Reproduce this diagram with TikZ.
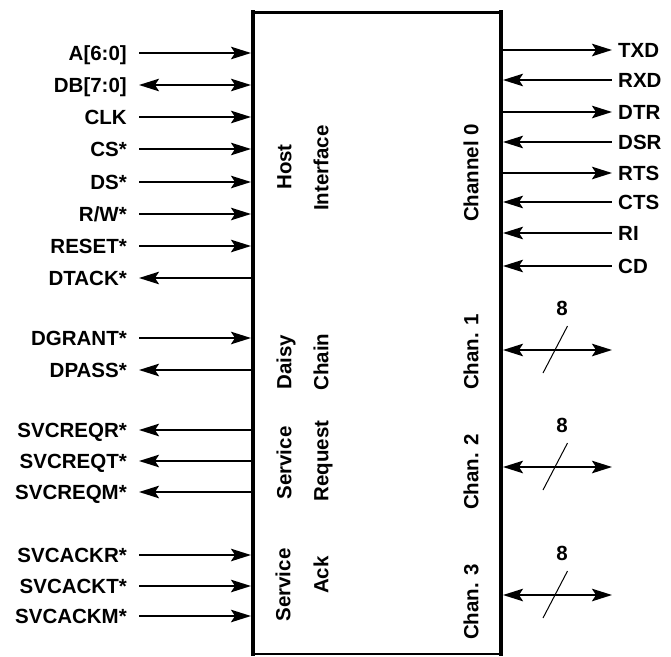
\documentclass[tikz,border=0pt]{standalone}
\usepackage{fontspec}
\setmainfont{Liberation Sans}
\usetikzlibrary{arrows.meta}
\tikzset{AH/.tip={Stealth[length=20pt,width=12.5pt,inset=4pt]}}
\begin{document}
\begin{tikzpicture}[x=1pt,y=-1pt,
  lbl/.style={font=\fontsize{20.5}{24}\selectfont\bfseries, inner sep=0pt, text height=14.7pt, text depth=0pt},
  vlbl/.style={lbl, rotate=90},
  sig/.style={line width=2pt},
  sin/.style={sig,-AH},
  sout/.style={sig,AH-},
  sbi/.style={sig,AH-AH},
  slash/.style={line width=1pt},
  edge/.style={line width=#1, line cap=rect}]
\useasboundingbox (0,0) rectangle (671,656);

% box
\coordinate (tl) at (253,12);
\coordinate (tr) at (501,12);
\coordinate (bl) at (253,654);
\coordinate (br) at (501,654);
\draw[edge=3pt] (tl) -- (tr);
\draw[edge=4pt] (tl) -- (bl);
\draw[edge=4pt] (tr) -- (br);
\draw[edge=2.5pt] (bl) -- (br);

% left signals (arrow drawn from outer end to box)
\foreach \y/\t/\d [count=\i] in {53/{A[6:0]}/sin, 85/{DB[7:0]}/sbi, 117/CLK/sin, 149/CS*/sin,
   182/DS*/sin, 214/{R/W*}/sin, 246/RESET*/sin, 278/DTACK*/sout,
   338/DGRANT*/sin, 370/DPASS*/sout,
   430/SVCREQR*/sout, 461/SVCREQT*/sout, 492/SVCREQM*/sout,
   555/SVCACKR*/sin, 586/SVCACKT*/sin, 616/SVCACKM*/sin}{
  \node[lbl, anchor=east] (L\i) at (127,\y) {\t};
  \coordinate (Lo\i) at (139,\y);
  \coordinate (Lb\i) at (251,\y);
  \draw[\d] (Lo\i) -- (Lb\i);
}

% right signals (arrow drawn from box to outer end)
\foreach \y/\t/\d [count=\i] in {50/TXD/sin, 80/RXD/sout, 112/DTR/sin, 142/DSR/sout,
   173/RTS/sin, 202/CTS/sout, 233/RI/sout, 266/CD/sout}{
  \node[lbl, anchor=west] (R\i) at (618,\y) {\t};
  \coordinate (Rb\i) at (503,\y);
  \coordinate (Ro\i) at (612,\y);
  \draw[\d] (Rb\i) -- (Ro\i);
}

% channel buses
\foreach \y [count=\i] in {350,467,595}{
  \coordinate (Cb\i) at (503,\y);
  \coordinate (Co\i) at (612,\y);
  \draw[sbi] (Cb\i) -- (Co\i);
  \coordinate (Sa\i) at (543,\y+23);
  \coordinate (Sb\i) at (567.5,\y-24);
  \draw[slash] (Sa\i) -- (Sb\i);
  \node[lbl] (N\i) at (562,\y-42) {8};
}

% vertical labels
\node[vlbl] (host) at (284,167) {Host};
\node[vlbl] (intf) at (321,168) {Interface};
\node[vlbl] (daisy) at (284,362) {Daisy};
\node[vlbl] (chain) at (321,362) {Chain};
\node[vlbl] (svc1) at (284,463) {Service};
\node[vlbl] (req) at (321,461) {Request};
\node[vlbl] (svc2) at (283,585) {Service};
\node[vlbl] (ack) at (321,575) {Ack};
\node[vlbl] (ch0) at (471,173) {Channel 0};
\node[vlbl] (ch1) at (471,352) {Chan. 1};
\node[vlbl] (ch2) at (471,472) {Chan. 2};
\node[vlbl] (ch3) at (471,602) {Chan. 3};
\end{tikzpicture}
\end{document}
